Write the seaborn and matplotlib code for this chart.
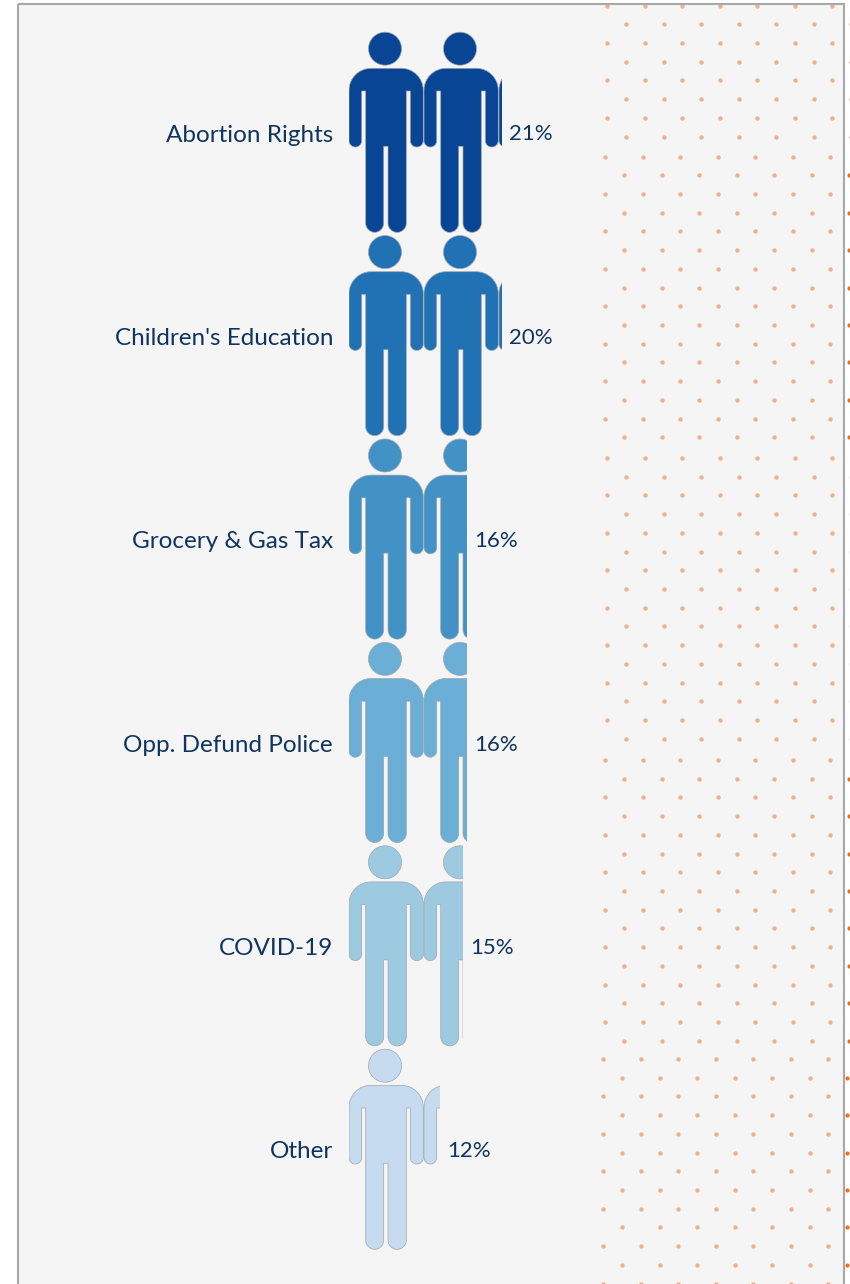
import numpy as np
import pandas as pd
import matplotlib
matplotlib.use("Agg")
import matplotlib.pyplot as plt
import seaborn as sns
from matplotlib.patches import PathPatch, Rectangle
from matplotlib.path import Path

# --- data ---
issues = ["Abortion Rights", "Children's Education", "Grocery & Gas Tax",
          "Opp. Defund Police", "COVID-19", "Other"]
shares = [20.4, 20.4, 15.7, 15.7, 15.2, 12.1]
pct_labels = ["21%", "20%", "16%", "16%", "15%", "12%"]
blues = ["#084594", "#2171b5", "#4292c6", "#6baed6", "#9ecae1", "#c6dbef"]

W, H = 850, 1284
PX_PER_PCT = 7.5     # one person = 10%
ROW_PX = 203.4
TEXT = "#0f3460"
FONT = "Lato"

sns.set_style("white")
plt.rcParams["font.family"] = [FONT, "DejaVu Sans"]


def rounded_path(corners):
    # closed outline from (x, y, radius) corners
    k = 0.55
    pts = np.array([c[:2] for c in corners], dtype=float)
    verts, codes = [], []
    n = len(corners)
    for i in range(n):
        p = pts[i]
        r = corners[i][2]
        a = pts[i - 1] - p
        b = pts[(i + 1) % n] - p
        a = a / np.linalg.norm(a)
        b = b / np.linalg.norm(b)
        start, end = p + a * r, p + b * r
        verts.append(start)
        codes.append(Path.MOVETO if i == 0 else Path.LINETO)
        if r > 0:
            verts += [start - a * r * k, end - b * r * k, end]
            codes += [Path.CURVE4] * 3
    verts.append(verts[0])
    codes.append(Path.CLOSEPOLY)
    return np.array(verts), codes


# person outline in pixels, origin at the top left of the icon
body_verts, body_codes = rounded_path([
    (0, 36.3, 22), (74.3, 36.3, 22), (74.3, 115, 6.3), (61.3, 115, 6.3),
    (61.3, 59, 0), (57.3, 59, 0), (57.3, 200.3, 9), (39, 200.3, 9),
    (39, 114.3, 0), (34.7, 114.3, 0), (34.7, 200.3, 9), (16.7, 200.3, 9),
    (16.7, 59, 0), (12.7, 59, 0), (12.7, 115, 6.3), (0, 115, 6.3),
])

fig = plt.figure(figsize=(W / 100, H / 100), dpi=100, facecolor="white")

# --- panel and dotted texture, in pixel coordinates ---
bg = fig.add_axes([0, 0, 1, 1], zorder=0)
bg.set_xlim(0, W)
bg.set_ylim(H, 0)
bg.axis("off")
bg.add_patch(Rectangle((18, 4), 826.5, H + 20, fc="#f5f5f5", ec="none", zorder=1))
bg.add_patch(Rectangle((18, 4), 826.5, H + 20, fc="none", ec="#a8a8a8", lw=1.5, zorder=5))

# tile blocks: first row, number of rows, x of the first dot, colour right of the panel
blocks = [(5.5, 8, 607.3, "#e98a4c"), (156.5, 16, 605.3, "#e8701a"),
          (458, 16, 607.3, "#dddddd"), (760, 16, 605.3, "#e8701a"),
          (1059, 13, 603.3, "#e8701a")]
for y0, n_rows, x0, outer in blocks:
    for r in range(n_rows):
        y = y0 + r * 18.72
        if r % 2 == 0:
            xs = x0 + 37.5 * np.arange(7)
        else:
            xs = x0 + 18.75 + 37.5 * np.arange(6)
            bg.scatter([x0 + 18.75 + 37.5 * 6], [y], s=9, color=outer, lw=0, zorder=2)
        bg.scatter(xs, np.full(len(xs), y), s=10, color="#efb08a", lw=0, zorder=2)

# --- chart, x in percent, y in categories ---
ax_left, ax_w = 349, 30 * PX_PER_PCT
ax_top = 133 - ROW_PX / 2
ax = fig.add_axes([ax_left / W, 1 - (ax_top + 6 * ROW_PX) / H, ax_w / W, 6 * ROW_PX / H], zorder=2)
ax.patch.set_alpha(0)

df = pd.DataFrame({"issue": issues, "share": shares})
sns.barplot(data=df, x="share", y="issue", hue="issue", palette=blues, width=1,
            dodge=False, legend=False, ax=ax)
ax.set_xlim(0, 30)
ax.set_ylim(5.5, -0.5)
ax.set_xlabel("")
ax.set_ylabel("")
ax.xaxis.set_visible(False)
sns.despine(ax=ax, left=True, bottom=True)
ax.tick_params(axis="y", length=0, pad=11.5, labelsize=17.5, labelcolor=TEXT)

for row, (bars, label) in enumerate(zip(ax.containers, pct_labels)):
    bar = [b for b in bars if b.get_width() > 0][0]
    for t in ax.bar_label(bars, labels=[label] * len(bars), padding=5.4, fontsize=16, color=TEXT):
        t.xyann = (5.4, -1)
    bar.set_alpha(0)
    share = shares[row]
    for n in range(int(np.ceil(share / 10))):
        # pixel offsets inside the row -> data units
        to_x = lambda px: n * 10 + px / PX_PER_PCT
        to_y = lambda py: row + (py - 101) / ROW_PX
        verts = np.column_stack([to_x(body_verts[:, 0]), to_y(body_verts[:, 1])])
        body = PathPatch(Path(verts, body_codes), fc=blues[row], ec="#a0a6ac", lw=0.5, zorder=3)
        ax.add_patch(body)
        body.set_clip_path(bar)
        t = np.linspace(0, 2 * np.pi, 80)
        hx, hy = to_x(36 + 16.5 * np.cos(t)), to_y(16.7 + 16.5 * np.sin(t))
        head = ax.fill(hx, hy, fc=blues[row], ec="#a0a6ac", lw=0.5, zorder=3)[0]
        head.set_clip_path(bar)

fig.savefig("out.png", dpi=100)
